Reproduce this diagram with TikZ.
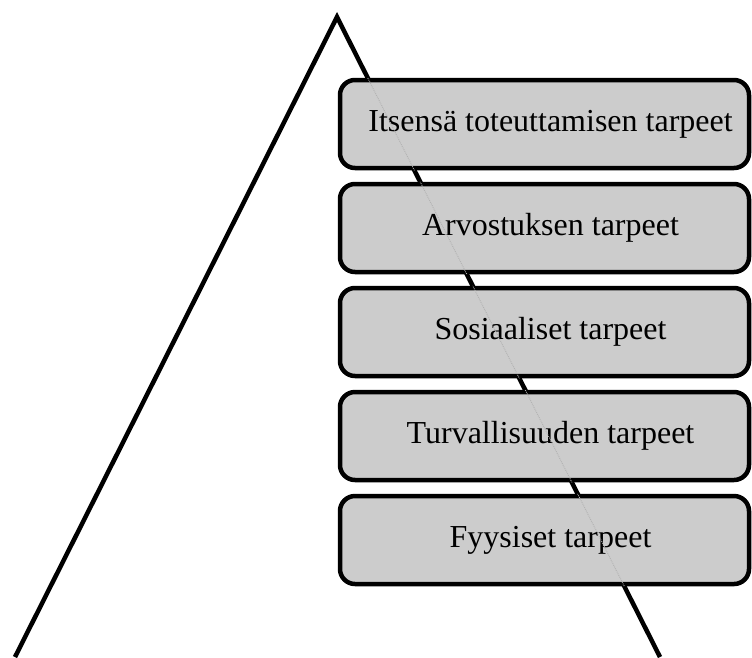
\documentclass[tikz,border=0pt]{standalone}
\usepackage{fontspec}
\setmainfont{Liberation Serif}
\begin{document}
\begin{tikzpicture}[x=1pt,y=-1pt,
  needbox/.style={draw=black, line width=4.5pt, fill=gray!40, rounded corners=15pt,
    minimum width=409pt, minimum height=88pt, inner sep=0pt, font=\fontsize{32}{38}\selectfont},
  side/.style={line width=4.5pt, black, line join=miter},
  seethrough/.style={gray!60, line width=0.9pt, densely dotted}]
\useasboundingbox (0,0) rectangle (752,657);
\coordinate (apex) at (337,17);
\coordinate (left) at (15,657);
\coordinate (right) at (660,657);
\draw[side] (left) -- (apex) -- (right);
\node[needbox] (b1) at (544.5,124) {\kern12pt Itsensä toteuttamisen tarpeet};
\node[needbox] (b2) at (544.5,228) {\kern12pt Arvostuksen tarpeet};
\node[needbox] (b3) at (544.5,332) {\kern12pt Sosiaaliset tarpeet};
\node[needbox] (b4) at (544.5,436) {\kern12pt Turvallisuuden tarpeet};
\node[needbox] (b5) at (544.5,540) {\kern12pt Fyysiset tarpeet};
\begin{scope}
\clip (b1.south west) rectangle (b1.north east)
      (b2.south west) rectangle (b2.north east)
      (b3.south west) rectangle (b3.north east)
      (b4.south west) rectangle (b4.north east)
      (b5.south west) rectangle (b5.north east);
\draw[seethrough] (apex) -- (right);
\end{scope}
\end{tikzpicture}
\end{document}
